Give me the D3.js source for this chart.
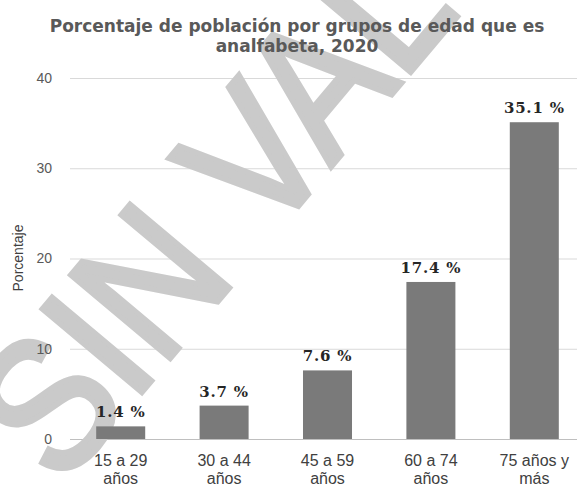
<!DOCTYPE html>
<html>
<head>
<meta charset="utf-8">
<script src="https://cdn.jsdelivr.net/npm/d3@7"></script>
<style>
  html, body { margin: 0; padding: 0; background: #fff; }
  svg { display: block; }
</style>
</head>
<body>
<svg id="chart" width="577" height="487"></svg>
<script>
// ---- data ----
const categories = ["15 a 29 años", "30 a 44 años", "45 a 59 años", "60 a 74 años", "75 años y más"];
const categoryLines = [["15 a 29", "años"], ["30 a 44", "años"], ["45 a 59", "años"], ["60 a 74", "años"], ["75 años y", "más"]];
const values = [1.4, 3.7, 7.6, 17.4, 35.1];
const valueLabels = ["1.4 %", "3.7 %", "7.6 %", "17.4 %", "35.1 %"];
const yTicks = [0, 10, 20, 30, 40];
const titleLines = ["Porcentaje de población por grupos de edad que es", "analfabeta, 2020"];
const yAxisTitle = "Porcentaje";
const watermarkText = "SIN VALOR";

// ---- layout ----
const W = 577, H = 487;
const svg = d3.select("#chart");

const x = d3.scaleBand().domain(categories).range([69, 586]).paddingInner(0.526).paddingOuter(0.263);
const y = d3.scaleLinear().domain([0, 40]).range([439, 78]);

// gridlines
svg.append("g").selectAll("line.grid")
  .data(yTicks)
  .join("line")
  .attr("x1", 70).attr("x2", W)
  .attr("y1", d => y(d) + 0.5).attr("y2", d => y(d) + 0.5)
  .attr("stroke", d => d === 0 ? "#bfbfbf" : "#d9d9d9")
  .attr("stroke-width", 1.2);

// watermark
svg.append("text")
  .attr("transform", "translate(289,112) rotate(-50) scale(0.88,1)")
  .attr("text-anchor", "middle")
  .attr("dy", "0.358em")
  .attr("font-family", "Liberation Sans, Arial, sans-serif")
  .attr("font-size", 188)
  .attr("fill", "#cacaca")
  .attr("stroke", "#cacaca")
  .attr("stroke-width", 6)
  .attr("stroke-linejoin", "miter")
  .text(watermarkText);

// tick labels via axis
const yAxis = d3.axisLeft(y).tickValues(yTicks).tickSize(0).tickPadding(0).tickFormat(d3.format("d"));
const gAxis = svg.append("g").attr("transform", "translate(52,0)").call(yAxis);
gAxis.select(".domain").remove();
gAxis.selectAll("text")
  .attr("font-family", "Liberation Sans, Arial, sans-serif")
  .attr("font-size", 14)
  .attr("fill", "#595959");

// bars
svg.append("g").selectAll("rect")
  .data(values)
  .join("rect")
  .attr("x", (d, i) => x(categories[i]))
  .attr("width", x.bandwidth())
  .attr("y", d => y(d))
  .attr("height", d => y(0) - y(d))
  .attr("fill", "#7a7a7a");

// value labels
svg.append("g").selectAll("text")
  .data(values)
  .join("text")
  .attr("x", (d, i) => x(categories[i]) + x.bandwidth() / 2)
  .attr("y", d => y(d) - 9)
  .attr("text-anchor", "middle")
  .attr("font-family", "DejaVu Serif, serif")
  .attr("font-weight", "bold")
  .attr("font-size", 15)
  .attr("letter-spacing", 0.8)
  .attr("fill", "#262626")
  .text((d, i) => valueLabels[i]);

// category labels
const catG = svg.append("g").selectAll("text")
  .data(categories)
  .join("text")
  .attr("text-anchor", "middle")
  .attr("font-family", "Liberation Sans, Arial, sans-serif")
  .attr("font-size", 16)
  .attr("fill", "#404040");
catG.each(function(d, i) {
  const t = d3.select(this);
  const cx = x(d) + x.bandwidth() / 2;
  categoryLines[i].forEach((ln, j) => {
    t.append("tspan").attr("x", cx).attr("y", 466 + j * 18).text(ln);
  });
});

// y axis title
svg.append("text")
  .attr("transform", "translate(23,258) rotate(-90)")
  .attr("text-anchor", "middle")
  .attr("font-family", "Liberation Sans, Arial, sans-serif")
  .attr("font-size", 14)
  .attr("fill", "#404040")
  .text(yAxisTitle);

// title
svg.append("g").selectAll("text")
  .data(titleLines)
  .join("text")
  .attr("x", 297)
  .attr("y", (d, i) => 32 + i * 20)
  .attr("text-anchor", "middle")
  .attr("font-family", "DejaVu Sans, Verdana, sans-serif")
  .attr("font-weight", "bold")
  .attr("font-size", 17)
  .attr("fill", "#595959")
  .text(d => d);
</script>
</body>
</html>
